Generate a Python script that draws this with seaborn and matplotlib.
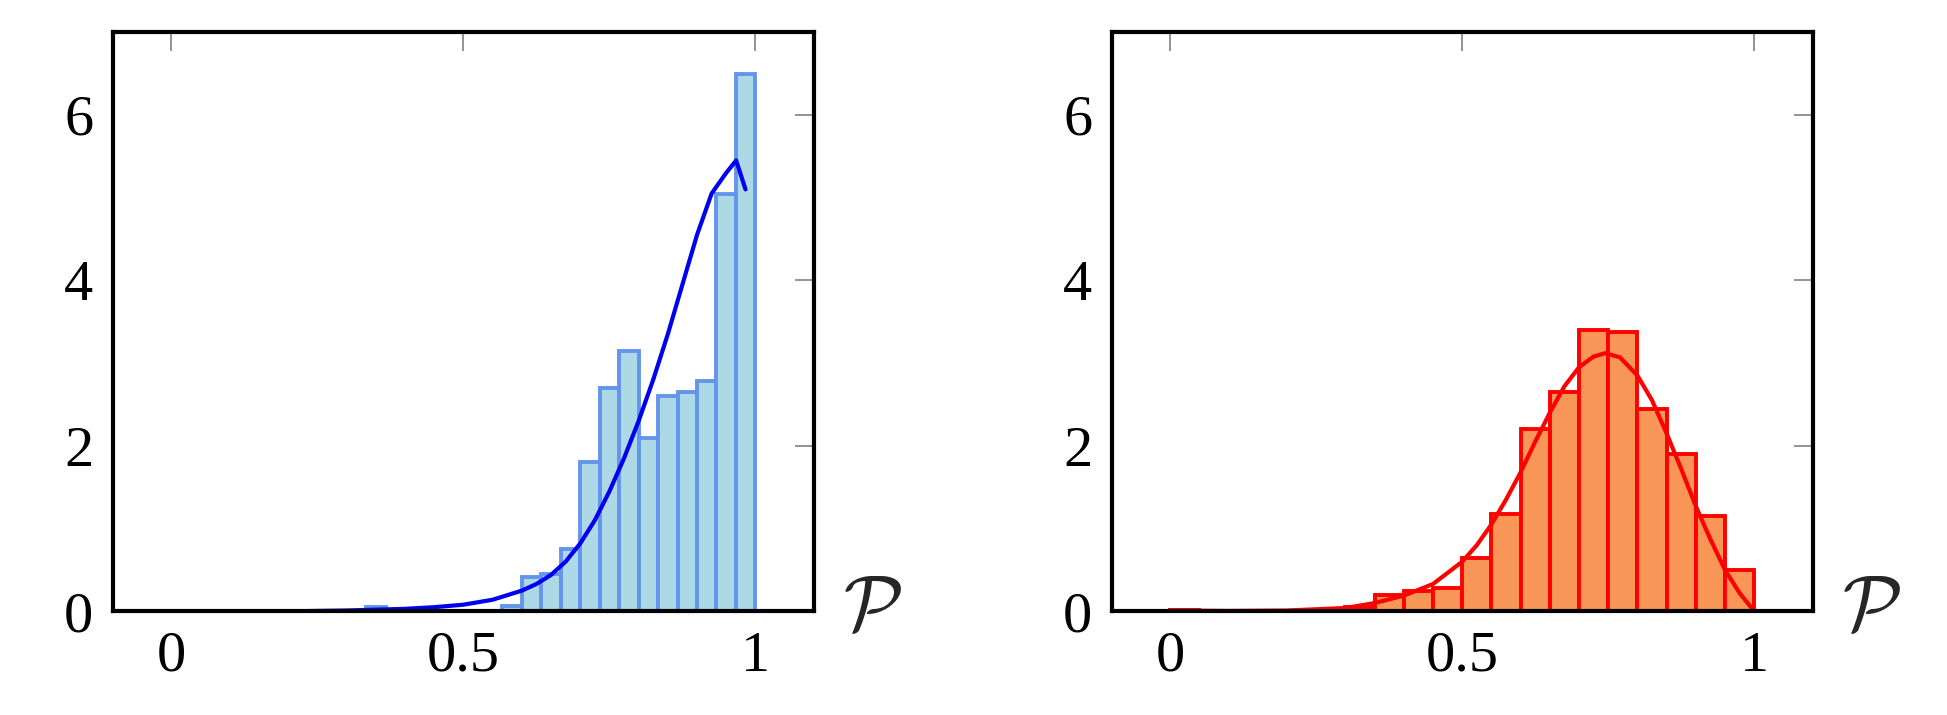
import numpy as np
import matplotlib
matplotlib.use("Agg")
import matplotlib.pyplot as plt
import seaborn as sns

sns.set_style("white")
plt.rcParams['font.family'] = ['Liberation Serif', 'DejaVu Serif']
plt.rcParams['mathtext.fontset'] = 'cm'

# left panel
left_edges = [0.3333, 0.3667, 0.5667, 0.6, 0.6333, 0.6667, 0.7, 0.7333, 0.7667, 0.8, 0.8333, 0.8667, 0.9, 0.9333, 0.9667, 1.0]
left_heights = [0.05, 0.0, 0.07, 0.42, 0.45, 0.75, 1.8, 2.7, 3.15, 2.1, 2.6, 2.65, 2.78, 5.05, 6.5]
left_curve_x = [0, 0.2, 0.3, 0.4, 0.45, 0.5, 0.55, 0.6, 0.625, 0.65, 0.675, 0.7, 0.725, 0.75, 0.775, 0.8, 0.825,
                0.85, 0.875, 0.9, 0.925, 0.95, 0.967, 0.983]
left_curve_y = [0, 0.0, 0.01, 0.03, 0.05, 0.08, 0.14, 0.25, 0.33, 0.44, 0.6, 0.82, 1.1, 1.45, 1.85, 2.3, 2.8,
                3.35, 3.95, 4.55, 5.05, 5.3, 5.45, 5.1]

# right panel
right_edges = [0.0, 0.05, 0.3, 0.35, 0.4, 0.45, 0.5, 0.55, 0.6, 0.65, 0.7, 0.75, 0.8, 0.85, 0.9, 0.95, 1.0]
right_heights = [0.02, 0.0, 0.05, 0.2, 0.25, 0.28, 0.65, 1.18, 2.2, 2.65, 3.4, 3.38, 2.45, 1.9, 1.15, 0.5]
right_curve_x = [0, 0.1, 0.2, 0.3, 0.35, 0.4, 0.45, 0.5, 0.525, 0.55, 0.575, 0.6, 0.625, 0.65, 0.675, 0.7, 0.725,
                 0.745, 0.77, 0.8, 0.825, 0.85, 0.875, 0.9, 0.925, 0.95, 0.975, 1.0]
right_curve_y = [0.01, 0.005, 0.01, 0.04, 0.1, 0.19, 0.33, 0.6, 0.8, 1.05, 1.35, 1.68, 2.05, 2.4, 2.72, 2.95, 3.08,
                 3.12, 3.07, 2.85, 2.55, 2.15, 1.72, 1.27, 0.87, 0.5, 0.22, 0.0]

fig = plt.figure(figsize=(19.47, 7.15), dpi=100)
ax1 = fig.add_axes([0.058, 0.145, 0.36, 0.81])
ax2 = fig.add_axes([0.571, 0.145, 0.36, 0.81])

def panel(ax, edges, heights, cx, cy, fill, edge, line):
    centers = [(edges[i] + edges[i + 1]) / 2 for i in range(len(heights))]
    sns.histplot(x=centers, weights=heights, bins=edges, stat="count", ax=ax,
                 color=fill, edgecolor=edge, linewidth=2.8, alpha=1)
    sns.lineplot(x=cx, y=cy, ax=ax, color=line, linewidth=3)
    ax.set_xlim(-0.1, 1.1)
    ax.set_ylim(0, 7)
    ax.set_xticks([0, 0.5, 1])
    ax.set_xticklabels(["0", "0.5", "1"])
    ax.set_yticks([0, 2, 4, 6])
    ax.set_ylabel("")
    ax.set_xlabel("")
    ax.tick_params(direction="in", length=14, width=1.2, color="gray",
                   top=True, right=True, labelsize=42, labelcolor="black", pad=14)
    for s in ax.spines.values():
        s.set_linewidth(3)
        s.set_color("black")
    ax.text(1.2, 0.0, r"$\mathcal{P}$", fontsize=56, ha="center", va="center")

panel(ax1, left_edges, left_heights, left_curve_x, left_curve_y, "#add8e6", "#6495ed", "#0000ee")
panel(ax2, right_edges, right_heights, right_curve_x, right_curve_y, "#f79656", "#ff0000", "#ff0000")

fig.savefig("out.png", dpi=100)
